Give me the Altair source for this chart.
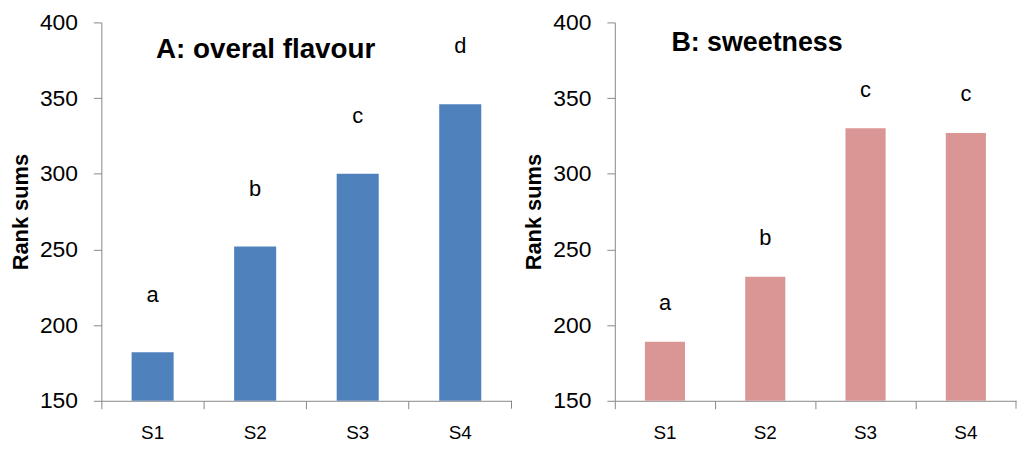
import altair as alt
import pandas as pd

categories = ["S1", "S2", "S3", "S4"]
flavour = [182, 252, 300, 346]
sweetness = [189, 232, 330, 327]
flavour_letters = ["a", "b", "c", "d"]
sweet_letters = ["a", "b", "c", "c"]
y_ticks = [150, 200, 250, 300, 350, 400]

FONT = "Liberation Sans"
GRAY = "#888888"
H = 381


def panel(vals, letters, color, title, tsize, tx, ty, label_dy, w, band):
    df = pd.DataFrame({"cat": categories, "val": vals, "letter": letters})
    base = alt.Chart(df)
    x = alt.X(
        "cat:N",
        sort=categories,
        scale=alt.Scale(paddingInner=0, paddingOuter=0),
        axis=alt.Axis(
            title=None,
            bandPosition=0,
            labelAngle=0,
            labelFontSize=19,
            labelFont=FONT,
            labelColor="black",
            labelPadding=15,
            tickSize=8,
            tickColor=GRAY,
            domainColor=GRAY,
            grid=False,
        ),
    )
    y = alt.Y(
        "val:Q",
        scale=alt.Scale(domain=[150, 400], nice=False, zero=False),
        axis=alt.Axis(
            title="Rank sums",
            values=y_ticks,
            titleFontSize=22,
            titleFont=FONT,
            titleFontWeight="bold",
            titleColor="black",
            titlePadding=7,
            labelFontSize=23,
            labelFont=FONT,
            labelColor="black",
            labelPadding=16,
            tickSize=8,
            tickColor=GRAY,
            domainColor=GRAY,
            grid=False,
        ),
    )
    bars = base.mark_bar(color=color, width=alt.RelativeBandSize(band)).encode(
        x=x, y=y, y2=alt.datum(150)
    )
    letters_txt = base.mark_text(
        dy=label_dy, fontSize=22, font=FONT, color="black", baseline="middle"
    ).encode(x=alt.X("cat:N", sort=categories), y="val:Q", text="letter:N")
    one = alt.Data(values=[{"k": 1}])
    ttl = alt.Chart(one).mark_text(
        fontSize=tsize, font=FONT, fontWeight="bold", color="black",
        align="left", baseline="middle",
    ).encode(x=alt.value(tx), y=alt.value(ty), text=alt.value(title))
    end_tick = alt.Chart(one).mark_rule(color=GRAY).encode(
        x=alt.value(w), y=alt.value(H), y2=alt.value(H + 8)
    )
    return alt.layer(bars, letters_txt, ttl, end_tick).properties(width=w, height=H)


left = panel(flavour, flavour_letters, "#4F81BD", "A: overal flavour", 28, 55, 28, -58, 413, 0.41)
right = panel(sweetness, sweet_letters, "#D99694", "B: sweetness", 27, 57, 21, -39, 404, 0.40)

chart = (
    alt.hconcat(left, right, spacing=10)
    .properties(padding={"left": 1, "top": 2, "right": 0, "bottom": 0})
    .configure_view(stroke=None)
)

chart.save("out.html", embed_options={"renderer": "svg", "actions": False})
